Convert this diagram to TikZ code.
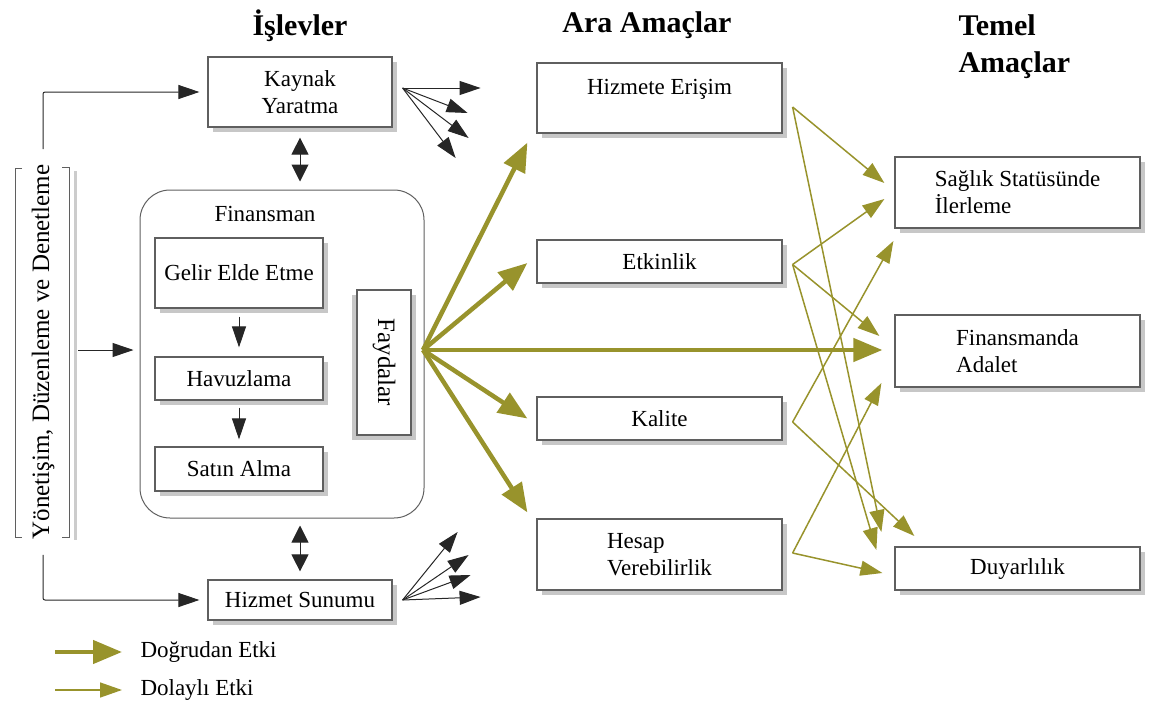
\documentclass[tikz,border=0pt]{standalone}
\usepackage{fontspec}
\setmainfont{Liberation Serif}
\usetikzlibrary{arrows.meta,shadows}

\definecolor{etki}{RGB}{152,147,44}
\definecolor{kenar}{RGB}{95,95,95}
\tikzstyle{box}=[draw=kenar, line width=1.2pt, fill=white, minimum width=184pt, align=center,
  font=\fontsize{23}{27}\selectfont,
  drop shadow={shadow xshift=5pt, shadow yshift=-5pt, fill=black!22, opacity=1}]
\tikzstyle{ibox}=[box, minimum width=168pt]
\tikzstyle{amac}=[box, minimum width=245pt]
\tikzstyle{baslik}=[font=\fontsize{30}{37}\selectfont\bfseries]
\tikzstyle{arr}=[draw=black!85, line width=1pt, -{Triangle[length=21pt,width=14pt]}]
\tikzstyle{twoway}=[draw=black!85, line width=1pt, {Triangle[length=17pt,width=17pt]}-{Triangle[length=17pt,width=17pt]}]
\tikzstyle{direct}=[draw=etki, line width=4.5pt, -{Triangle[length=29pt,width=23pt]}]
\tikzstyle{indirect}=[draw=etki, line width=1.5pt, -{Triangle[length=22pt,width=15pt]}]

\begin{document}
\begin{tikzpicture}[x=1pt, y=-1pt]
\useasboundingbox (0,0) rectangle (1152,707);

% basliklar
\node[baslik, anchor=base] (islev) at (300,35) {İşlevler};
\node[baslik, anchor=base] (ara) at (647,32) {Ara Amaçlar};
\node[baslik, anchor=north west, align=left] (temel) at (955,11) {Temel\\Amaçlar};

% islevler
\node[box, minimum height=70pt] (kaynak) at (300,92) {Kaynak\\Yaratma};
\node[draw=kenar, line width=1pt, rounded corners=30pt, minimum width=284pt, minimum height=328pt] (fin) at (282,354) {};
\node[font=\fontsize{23}{27}\selectfont] (finlbl) at (265,214) {Finansman};
\node[ibox, minimum height=70pt] (gelir) at (239,273) {Gelir Elde Etme};
\node[ibox, minimum height=43pt] (havuz) at (239,378.5) {Havuzlama};
\node[ibox, minimum height=44pt] (satin) at (239,469) {Satın Alma};
\node[box, minimum width=145pt, minimum height=54pt, rotate=-90, font=\fontsize{25}{30}\selectfont,
  drop shadow={shadow xshift=-5pt, shadow yshift=-5pt, fill=black!22, opacity=1}] (fayda) at (384,362.5) {Faydalar};
\node[box, minimum height=40pt] (sunum) at (300,600) {Hizmet Sunumu};

\draw[arr] ([yshift=-8pt]gelir.south) -- ([yshift=9pt]havuz.north);
\draw[arr] ([yshift=-7pt]havuz.south) -- ([yshift=7pt]satin.north);
\draw[twoway] ([yshift=-10pt]kaynak.south) -- ([yshift=8pt]kaynak.south |- fin.north);
\draw[twoway] ([yshift=-7pt]sunum.north |- fin.south) -- ([yshift=8pt]sunum.north);

% yonetisim
\draw[kenar, line width=1pt] (22,168) -- (15,168) -- (15,537) -- (22,537);
\draw[black!20, line width=3pt] (75,171) -- (75,540);
\draw[kenar, line width=1pt] (62,167) -- (69,167) -- (69,537) -- (62,537);
\node[rotate=90, font=\fontsize{25}{30}\selectfont] (gov) at (43,352) {Yönetişim, Düzenleme ve Denetleme};
\coordinate (rbr) at (78,350);
\draw[arr, rounded corners=2pt, shorten >=8pt] ([yshift=12pt]gov.east) |- (kaynak.west);
\draw[arr, rounded corners=2pt, shorten >=8pt] ([yshift=-12pt]gov.west) |- (sunum.west);
\draw[arr, shorten >=6pt] (rbr) -- (rbr -| fin.west);

% dagilan oklar
\coordinate (kfan) at ([xshift=10pt,yshift=4pt]kaynak.east);
\foreach \dx/\dy in {78/0, 65/25, 66/50, 53/70}
  \draw[arr] (kfan) -- ++(\dx,\dy);
\coordinate (sfan) at ([xshift=10pt]sunum.east);
\foreach \dx/\dy in {78/-3, 68/-25, 66/-45, 55/-68}
  \draw[arr] (sfan) -- ++(\dx,\dy);

% ara amaclar
\node[amac, minimum height=70pt, text depth=22pt] (erisim) at (659.5,98) {Hizmete Erişim};
\node[amac, minimum height=43pt] (etkin) at (659.5,261.5) {Etkinlik};
\node[amac, minimum height=43pt] (kalite) at (659.5,418.5) {Kalite};
\node[amac, minimum height=71pt, align=left] (hesap) at (659.5,554.5) {Hesap\\Verebilirlik};

% temel amaclar
\node[amac, minimum height=71pt, align=left] (saglik) at (1017.5,192.5) {Sağlık Statüsünde\\İlerleme};
\node[amac, minimum height=72pt, align=left] (adalet) at (1017.5,351) {Finansmanda\\Adalet};
\node[amac, minimum height=43pt] (duyar) at (1017.5,568.5) {Duyarlılık};

% dogrudan etki
\coordinate (src) at (423,350);
\draw[direct] (src) -- ([xshift=-9pt,yshift=-9pt]erisim.south west);
\draw[direct] (src) -- ([xshift=-9pt,yshift=-1.5pt]etkin.west);
\draw[direct, shorten >=12pt] (src) -- (src -| adalet.west);
\draw[direct] (src) -- ([xshift=-9pt]kalite.west);
\draw[direct] (src) -- ([xshift=-9pt,yshift=6pt]hesap.north west);

% dolayli etki
\draw[indirect] ([xshift=10pt,yshift=-9pt]erisim.east) -- ([xshift=-10pt,yshift=9.5pt]saglik.west);
\draw[indirect] ([xshift=10pt,yshift=-9pt]erisim.east) -- ([xshift=-13pt,yshift=36.5pt]duyar.west);
\draw[indirect] ([xshift=10pt,yshift=-3pt]etkin.east) -- ([xshift=-10pt,yshift=-6.5pt]saglik.west);
\draw[indirect] ([xshift=10pt,yshift=-3pt]etkin.east) -- ([xshift=-15pt,yshift=15pt]adalet.west);
\draw[indirect] ([xshift=10pt,yshift=-3pt]etkin.east) -- ([xshift=-18pt,yshift=18.5pt]duyar.west);
\draw[indirect] ([xshift=10pt,yshift=-3.5pt]kalite.east) -- ([xshift=-1pt,yshift=-48.5pt]saglik.west);
\draw[indirect] ([xshift=10pt,yshift=-3.5pt]kalite.east) -- ([xshift=20pt,yshift=32.5pt]duyar.west);
\draw[indirect] ([xshift=10pt,yshift=1.5pt]hesap.east) -- ([xshift=-13pt,yshift=-32pt]adalet.west);
\draw[indirect] ([xshift=10pt,yshift=1.5pt]hesap.east) -- ([xshift=-12pt,yshift=-4.5pt]duyar.west);

% lejant
\node[anchor=west, font=\fontsize{23}{27}\selectfont] (dlbl) at (137,652) {Doğrudan Etki};
\node[anchor=west, font=\fontsize{23}{27}\selectfont] (ilbl) at (137,690) {Dolaylı Etki};
\draw[direct] ([xshift=-82pt]dlbl.west) -- ([xshift=-15pt]dlbl.west);
\draw[indirect] ([xshift=-82pt]ilbl.west) -- ([xshift=-15pt]ilbl.west);
\end{tikzpicture}
\end{document}
